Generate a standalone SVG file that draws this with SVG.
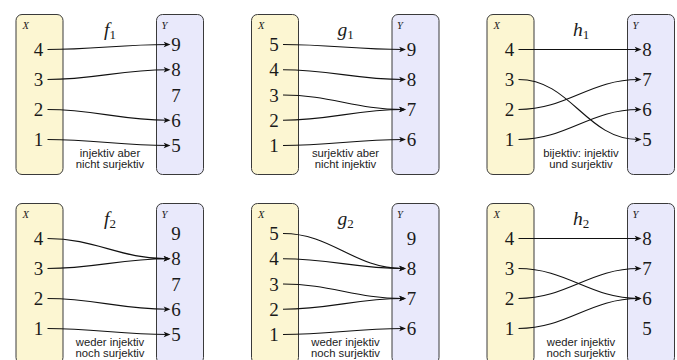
<svg xmlns="http://www.w3.org/2000/svg" width="677" height="360" viewBox="0 0 677 360">
<style>
.bx{fill:#fcf6d2;stroke:#3a3a3a;stroke-width:1}
.by{fill:#e9e9fb;stroke:#3a3a3a;stroke-width:1}
.lab{font-family:"Liberation Serif",serif;font-style:italic;font-size:10.5px;fill:#1a1a1a}
.num{font-family:"Liberation Serif",serif;font-size:19px;fill:#1a1a1a;text-anchor:middle}
.fn{font-family:"Liberation Serif",serif;font-size:19.5px;fill:#1a1a1a;text-anchor:middle}
.fn .s{font-style:normal;font-size:13px}
.fn .m{font-style:italic}
.note{font-family:"Liberation Sans",Arial,sans-serif;font-size:11.3px;fill:#222;text-anchor:middle}
.ar{fill:none;stroke:#111;stroke-width:1.15;marker-end:url(#ah)}
</style>
<defs>
<marker id="ah" markerUnits="userSpaceOnUse" markerWidth="12" markerHeight="12" refX="0" refY="0" orient="auto" overflow="visible">
<path d="M3,0 L-3.8,-2.7 L-2.2,0 L-3.8,2.7 Z" fill="#111"/>
</marker>
</defs>

<!-- Panel f1 -->
<g id="panel-f1">
<g id="f1-X"><rect class="bx" x="16" y="14.5" width="47" height="160" rx="6"/><text class="lab" x="22.5" y="29">X</text>
<text class="num" x="38.5" y="56">4</text><text class="num" x="38.5" y="86">3</text><text class="num" x="38.5" y="116">2</text><text class="num" x="38.5" y="146">1</text></g>
<g id="f1-Y"><rect class="by" x="156.5" y="14.5" width="47" height="160" rx="6"/><text class="lab" x="161.5" y="29">Y</text>
<text class="num" x="176" y="51">9</text><text class="num" x="176" y="76.2">8</text><text class="num" x="176" y="101.5">7</text><text class="num" x="176" y="126.7">6</text><text class="num" x="176" y="152">5</text></g>
<g id="f1-label"><text class="fn" x="110" y="35.5"><tspan class="m">f</tspan><tspan class="s" dy="3">1</tspan></text></g>
<g id="f1-note"><text class="note" x="110" y="156.5">injektiv aber</text><text class="note" x="110" y="167.8">nicht surjektiv</text></g>
</g>

<!-- Panel g1 -->
<g id="panel-g1" transform="translate(235.5,0)">
<g id="g1-X"><rect class="bx" x="16" y="14.5" width="47" height="160" rx="6"/><text class="lab" x="22.5" y="29">X</text>
<text class="num" x="38.5" y="51">5</text><text class="num" x="38.5" y="76.2">4</text><text class="num" x="38.5" y="101.5">3</text><text class="num" x="38.5" y="126.7">2</text><text class="num" x="38.5" y="152">1</text></g>
<g id="g1-Y"><rect class="by" x="156.5" y="14.5" width="47" height="160" rx="6"/><text class="lab" x="161.5" y="29">Y</text>
<text class="num" x="176" y="56">9</text><text class="num" x="176" y="86">8</text><text class="num" x="176" y="116">7</text><text class="num" x="176" y="146">6</text></g>
<g id="g1-label"><text class="fn" x="110" y="35.5"><tspan class="m">g</tspan><tspan class="s" dy="3">1</tspan></text></g>
<g id="g1-note"><text class="note" x="110" y="156.5">surjektiv aber</text><text class="note" x="110" y="167.8">nicht injektiv</text></g>
</g>

<!-- Panel h1 -->
<g id="panel-h1" transform="translate(471,0)">
<g id="h1-X"><rect class="bx" x="16" y="14.5" width="47" height="160" rx="6"/><text class="lab" x="22.5" y="29">X</text>
<text class="num" x="38.5" y="56">4</text><text class="num" x="38.5" y="86">3</text><text class="num" x="38.5" y="116">2</text><text class="num" x="38.5" y="146">1</text></g>
<g id="h1-Y"><rect class="by" x="156.5" y="14.5" width="47" height="160" rx="6"/><text class="lab" x="161.5" y="29">Y</text>
<text class="num" x="176" y="56">8</text><text class="num" x="176" y="86">7</text><text class="num" x="176" y="116">6</text><text class="num" x="176" y="146">5</text></g>
<g id="h1-label"><text class="fn" x="110" y="35.5"><tspan class="m">h</tspan><tspan class="s" dy="3">1</tspan></text></g>
<g id="h1-note"><text class="note" x="110" y="156.5">bijektiv: injektiv</text><text class="note" x="110" y="167.8">und surjektiv</text></g>
</g>

<!-- Panel f2 -->
<g id="panel-f2" transform="translate(0,189)">
<g id="f2-X"><rect class="bx" x="16" y="14.5" width="47" height="160" rx="6"/><text class="lab" x="22.5" y="29">X</text>
<text class="num" x="38.5" y="56">4</text><text class="num" x="38.5" y="86">3</text><text class="num" x="38.5" y="116">2</text><text class="num" x="38.5" y="146">1</text></g>
<g id="f2-Y"><rect class="by" x="156.5" y="14.5" width="47" height="160" rx="6"/><text class="lab" x="161.5" y="29">Y</text>
<text class="num" x="176" y="51">9</text><text class="num" x="176" y="76.2">8</text><text class="num" x="176" y="101.5">7</text><text class="num" x="176" y="126.7">6</text><text class="num" x="176" y="152">5</text></g>
<g id="f2-label"><text class="fn" x="110" y="35.5"><tspan class="m">f</tspan><tspan class="s" dy="3">2</tspan></text></g>
<g id="f2-note"><text class="note" x="110" y="156.5">weder injektiv</text><text class="note" x="110" y="167.8">noch surjektiv</text></g>
</g>

<!-- Panel g2 -->
<g id="panel-g2" transform="translate(235.5,189)">
<g id="g2-X"><rect class="bx" x="16" y="14.5" width="47" height="160" rx="6"/><text class="lab" x="22.5" y="29">X</text>
<text class="num" x="38.5" y="51">5</text><text class="num" x="38.5" y="76.2">4</text><text class="num" x="38.5" y="101.5">3</text><text class="num" x="38.5" y="126.7">2</text><text class="num" x="38.5" y="152">1</text></g>
<g id="g2-Y"><rect class="by" x="156.5" y="14.5" width="47" height="160" rx="6"/><text class="lab" x="161.5" y="29">Y</text>
<text class="num" x="176" y="56">9</text><text class="num" x="176" y="86">8</text><text class="num" x="176" y="116">7</text><text class="num" x="176" y="146">6</text></g>
<g id="g2-label"><text class="fn" x="110" y="35.5"><tspan class="m">g</tspan><tspan class="s" dy="3">2</tspan></text></g>
<g id="g2-note"><text class="note" x="110" y="156.5">weder injektiv</text><text class="note" x="110" y="167.8">noch surjektiv</text></g>
</g>

<!-- Panel h2 -->
<g id="panel-h2" transform="translate(471,189)">
<g id="h2-X"><rect class="bx" x="16" y="14.5" width="47" height="160" rx="6"/><text class="lab" x="22.5" y="29">X</text>
<text class="num" x="38.5" y="56">4</text><text class="num" x="38.5" y="86">3</text><text class="num" x="38.5" y="116">2</text><text class="num" x="38.5" y="146">1</text></g>
<g id="h2-Y"><rect class="by" x="156.5" y="14.5" width="47" height="160" rx="6"/><text class="lab" x="161.5" y="29">Y</text>
<text class="num" x="176" y="56">8</text><text class="num" x="176" y="86">7</text><text class="num" x="176" y="116">6</text><text class="num" x="176" y="146">5</text></g>
<g id="h2-label"><text class="fn" x="110" y="35.5"><tspan class="m">h</tspan><tspan class="s" dy="3">2</tspan></text></g>
<g id="h2-note"><text class="note" x="110" y="156.5">weder injektiv</text><text class="note" x="110" y="167.8">noch surjektiv</text></g>
</g>

<g id="connectors">
<g id="conn-f1">
<path class="ar" d="M47.5,49.5 C94.5,49.5 120.5,44.5 167.5,44.5"/>
<path class="ar" d="M47.5,79.5 C94.5,79.5 120.5,69.75 167.5,69.75"/>
<path class="ar" d="M47.5,109.5 C94.5,109.5 120.5,120.25 167.5,120.25"/>
<path class="ar" d="M47.5,139.5 C94.5,139.5 120.5,145.5 167.5,145.5"/>
</g>
<g id="conn-g1" transform="translate(235.5,0)">
<path class="ar" d="M47.5,44.5 C94.5,44.5 120.5,49.5 167.5,49.5"/>
<path class="ar" d="M47.5,69.75 C94.5,69.75 120.5,79.5 167.5,79.5"/>
<path class="ar" d="M47.5,95 C94.8,95 120.2,109.5 167.5,109.5"/>
<path class="ar" d="M47.5,120.25 C94.5,120.25 120.5,109.5 167.5,109.5"/>
<path class="ar" d="M47.5,145.5 C94.5,145.5 120.5,139.5 167.5,139.5"/>
</g>
<g id="conn-h1" transform="translate(471,0)">
<path class="ar" d="M47.5,49.5 L167.5,49.5"/>
<path class="ar" d="M47.5,79.5 C100,79.5 115,139.5 167.5,139.5"/>
<path class="ar" d="M47.5,109.5 C95.9,109.5 119.1,79.5 167.5,79.5"/>
<path class="ar" d="M47.5,139.5 C95.9,139.5 119.1,109.5 167.5,109.5"/>
</g>
<g id="conn-f2" transform="translate(0,189)">
<path class="ar" d="M47.5,49.5 C95,49.5 120,69.75 167.5,69.75"/>
<path class="ar" d="M47.5,79.5 C94.5,79.5 120.5,69.75 167.5,69.75"/>
<path class="ar" d="M47.5,109.5 C94.5,109.5 120.5,120.25 167.5,120.25"/>
<path class="ar" d="M47.5,139.5 C94.5,139.5 120.5,145.5 167.5,145.5"/>
</g>
<g id="conn-g2" transform="translate(235.5,189)">
<path class="ar" d="M47.5,44.5 C96.5,44.5 118.5,79.5 167.5,79.5"/>
<path class="ar" d="M47.5,69.75 C94.5,69.75 120.5,79.5 167.5,79.5"/>
<path class="ar" d="M47.5,95 C94.8,95 120.2,109.5 167.5,109.5"/>
<path class="ar" d="M47.5,120.25 C94.5,120.25 120.5,109.5 167.5,109.5"/>
<path class="ar" d="M47.5,145.5 C94.5,145.5 120.5,139.5 167.5,139.5"/>
</g>
<g id="conn-h2" transform="translate(471,189)">
<path class="ar" d="M47.5,49.5 L167.5,49.5"/>
<path class="ar" d="M47.5,79.5 C95.9,79.5 119.1,109.5 167.5,109.5"/>
<path class="ar" d="M47.5,109.5 C95.9,109.5 119.1,79.5 167.5,79.5"/>
<path class="ar" d="M47.5,139.5 C95.9,139.5 119.1,109.5 167.5,109.5"/>
</g>
</g>
</svg>
